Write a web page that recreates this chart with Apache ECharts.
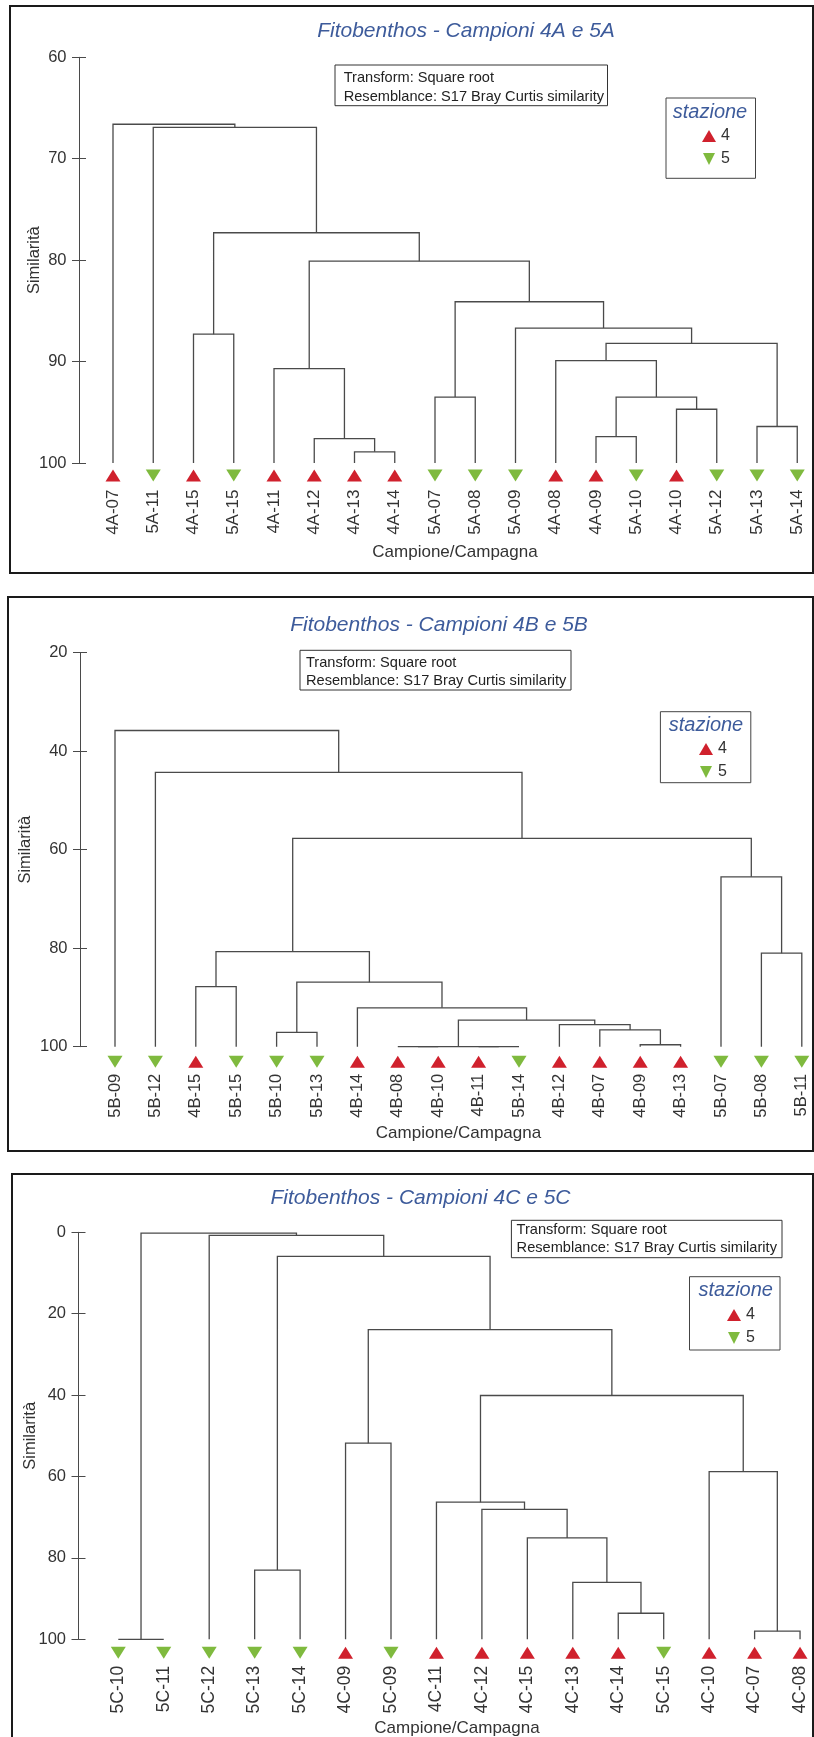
<!DOCTYPE html>
<html>
<head>
<meta charset="utf-8">
<script src="https://cdn.jsdelivr.net/npm/echarts@6/dist/echarts.min.js"></script>
<style>
  html, body { margin: 0; padding: 0; background: #fff; }
  #chart { width: 814px; height: 1737px; }
</style>
</head>
<body>
<div id="chart"></div>
<script>
// ---- pannello A ----
const labelsA = ['4A-07','5A-11','4A-15','5A-15','4A-11','4A-12','4A-13','4A-14','5A-07','5A-08','5A-09','4A-08','4A-09','5A-10','4A-10','5A-12','5A-13','5A-14'];
const stationsA = [4,5,4,5,4,4,4,4,5,5,5,4,4,5,4,5,5,5];
// [nodo, nodo, similarità] - nodi < n sono foglie, n+k è la fusione k
const mergesA = [
  [6, 7, 98.9], [5, 18, 97.6], [12, 13, 97.4], [16, 17, 96.4], [14, 15, 94.7],
  [20, 22, 93.5], [8, 9, 93.5], [4, 19, 90.7], [11, 23, 89.9], [26, 21, 88.2],
  [2, 3, 87.3], [10, 27, 86.7], [24, 29, 84.1], [25, 30, 80.1], [28, 31, 77.3],
  [1, 32, 66.9], [0, 33, 66.6]
];
const ticksA = [60, 70, 80, 90, 100];

// ---- pannello B ----
const labelsB = ['5B-09','5B-12','4B-15','5B-15','5B-10','5B-13','4B-14','4B-08','4B-10','4B-11','5B-14','4B-12','4B-07','4B-09','4B-13','5B-07','5B-08','5B-11'];
const stationsB = [5,5,4,5,5,5,4,4,4,4,5,4,4,4,4,5,5,5];
const mergesB = [
  [7, 8, 100], [9, 10, 100], [18, 19, 100], [13, 14, 99.6], [4, 5, 97.1],
  [12, 21, 96.6], [11, 23, 95.5], [20, 24, 94.6], [6, 25, 92.1], [2, 3, 87.8],
  [22, 26, 86.9], [16, 17, 81.0], [27, 28, 80.7], [15, 29, 65.5], [30, 31, 57.7],
  [1, 32, 44.3], [0, 33, 35.8]
];
const ticksB = [20, 40, 60, 80, 100];

// ---- pannello C ----
const labelsC = ['5C-10','5C-11','5C-12','5C-13','5C-14','4C-09','5C-09','4C-11','4C-12','4C-15','4C-13','4C-14','5C-15','4C-10','4C-07','4C-08'];
const stationsC = [5,5,5,5,5,4,5,4,4,4,4,4,5,4,4,4];
const mergesC = [
  [0, 1, 100], [14, 15, 98.0], [11, 12, 93.6], [10, 18, 86.0], [3, 4, 83.0],
  [9, 19, 75.1], [8, 21, 68.1], [7, 22, 66.3], [13, 17, 58.8], [5, 6, 51.8],
  [23, 24, 40.1], [25, 26, 23.9], [20, 27, 5.9], [2, 28, 0.75], [16, 29, 0.2]
];
const ticksC = [0, 20, 40, 60, 80, 100];

const FONT = '"Liberation Sans", Arial, sans-serif';
const BLUE = '#3d5b9b';
const RED = '#d0212d';
const GREEN = '#7fba3e';
const LINE = '#4a4a4a';
const DOWN = 'path://M0,0L2,0L1,2Z';

// impaginazione dei tre riquadri
const panels = [
  { labels: labelsA, stations: stationsA, merges: mergesA, ticks: ticksA,
    title: 'Fitobenthos - Campioni 4A e 5A', titleXY: [466, 31],
    axisX: 79, top: 57.3, bottom: 463, leaf0: 113, step: 40.25, nameGap: 36,
    xNameXY: [455, 552], labelSize: 17, symOff: 12.5, labelDist: 8,
    border: [10, 6, 813, 573], info: [335, 65, 607.5, 105.7], infoText: [343.7, 77.7, 96.7],
    legBox: [666, 98, 755.5, 178.3], staz: [710, 112.7], legItems: [702, 128] },
  { labels: labelsB, stations: stationsB, merges: mergesB, ticks: ticksB,
    title: 'Fitobenthos - Campioni 4B e 5B', titleXY: [439, 625],
    axisX: 80, top: 652.7, bottom: 1046.7, leaf0: 115, step: 40.4, nameGap: 46,
    xNameXY: [458.5, 1133.3], labelSize: 16.5, symOff: 15, labelDist: 6,
    border: [8, 597, 813, 1151], info: [300, 650.3, 571, 690], infoText: [306, 662.7, 680.7],
    legBox: [660.4, 711.7, 750.8, 782.7], staz: [706, 725.7], legItems: [699, 741] },
  { labels: labelsC, stations: stationsC, merges: mergesC, ticks: ticksC,
    title: 'Fitobenthos - Campioni 4C e 5C', titleXY: [420.5, 1198],
    axisX: 78.5, top: 1232.3, bottom: 1639.3, leaf0: 118.3, step: 45.45, nameGap: 40,
    xNameXY: [457, 1728.3], labelSize: 17.5, symOff: 13.5, labelDist: 7,
    border: [12, 1174, 813, 1745], info: [511.4, 1220.3, 782, 1257.7], infoText: [516.6, 1230, 1248.3],
    legBox: [689.5, 1276.7, 780, 1350], staz: [735.7, 1290], legItems: [727, 1307] }
];

// da fusioni a segmenti: [x sx, h sx, x dx, h dx, h fusione]
function buildLinks(n, merges, leafH) {
  const pos = [], h = [];
  for (let i = 0; i < n; i++) { pos.push(i); h.push(leafH); }
  const links = [];
  merges.forEach(([a, b, s]) => {
    links.push([pos[a], h[a], pos[b], h[b], s]);
    pos.push((pos[a] + pos[b]) / 2);
    h.push(s);
  });
  return links;
}

const grid = [], xAxis = [], yAxis = [], series = [], legend = [], graphic = [];

panels.forEach((p, i) => {
  const n = p.labels.length;
  const yMin = p.ticks[0], yMax = p.ticks[p.ticks.length - 1];
  const pad = p.leaf0 - p.axisX;
  grid.push({ left: p.axisX, top: p.top, height: p.bottom - p.top, width: (n - 1) * p.step + pad + 10 });
  xAxis.push({ type: 'value', gridIndex: i, min: -pad / p.step, max: n - 1 + 10 / p.step, show: false });
  yAxis.push({
    type: 'value', gridIndex: i, position: 'left', inverse: true,
    min: yMin, max: yMax, interval: p.ticks[1] - p.ticks[0],
    name: 'Similarità', nameLocation: 'middle', nameRotate: 90, nameGap: p.nameGap,
    nameMoveOverlap: false,
    nameTextStyle: { fontSize: 16.5, color: '#333', fontFamily: FONT },
    axisLine: { show: true, onZero: false, lineStyle: { color: LINE, width: 1 } },
    axisTick: { show: true, length: 7, lineStyle: { color: LINE } },
    axisLabel: { fontSize: 16.5, color: '#333', fontFamily: FONT, margin: 12.5 },
    splitLine: { show: false }
  });
  // secondo asse solo per le tacche verso l'interno
  yAxis.push({
    type: 'value', gridIndex: i, position: 'left', inverse: true,
    min: yMin, max: yMax, interval: p.ticks[1] - p.ticks[0],
    axisLine: { show: false, onZero: false }, axisLabel: { show: false }, splitLine: { show: false },
    axisTick: { show: true, inside: true, length: 7, lineStyle: { color: LINE } }
  });

  series.push({
    type: 'custom', xAxisIndex: i, yAxisIndex: 2 * i, silent: true,
    encode: { x: [0, 2], y: [1, 3, 4] },
    data: buildLinks(n, p.merges, yMax),
    renderItem: (params, api) => {
      const a = api.coord([api.value(0), api.value(1)]);
      const b = api.coord([api.value(0), api.value(4)]);
      const c = api.coord([api.value(2), api.value(4)]);
      const d = api.coord([api.value(2), api.value(3)]);
      return { type: 'polyline', shape: { points: [a, b, c, d] },
               style: { stroke: LINE, lineWidth: 1.3, fill: null } };
    }
  });

  [[4, 'triangle', RED], [5, DOWN, GREEN]].forEach(([st, sym, col]) => {
    const pts = [];
    p.stations.forEach((s, k) => { if (s === st) pts.push([k, yMax]); });
    series.push({
      type: 'scatter', name: String(st), xAxisIndex: i, yAxisIndex: 2 * i,
      clip: false, silent: true,
      symbol: sym, symbolSize: [15, 12], symbolOffset: [0, p.symOff],
      itemStyle: { color: col, opacity: 1 },
      label: {
        show: true, position: 'bottom', distance: p.labelDist, rotate: 90,
        align: 'right', verticalAlign: 'middle',
        fontSize: p.labelSize, color: '#333', fontFamily: FONT,
        formatter: (q) => p.labels[q.value[0]]
      },
      data: pts
    });
  });

  legend.push({
    orient: 'vertical', left: p.legItems[0], top: p.legItems[1], padding: 0,
    itemWidth: 14, itemHeight: 12, itemGap: 7, selectedMode: false,
    textStyle: { fontSize: 16, color: '#333', fontFamily: FONT },
    data: [{ name: '4', icon: 'triangle' }, { name: '5', icon: DOWN }]
  });

  const [bx0, by0, bx1, by1] = p.border;
  graphic.push({ type: 'rect', silent: true, shape: { x: bx0, y: by0, width: bx1 - bx0, height: by1 - by0 },
                 style: { fill: null, stroke: '#1a1a1a', lineWidth: 2 } });
  graphic.push({ type: 'text', silent: true, x: p.titleXY[0], y: p.titleXY[1],
                 style: { text: p.title, font: 'italic 21px ' + FONT, fill: BLUE, textAlign: 'center', textVerticalAlign: 'middle' } });
  const [ix0, iy0, ix1, iy1] = p.info;
  graphic.push({ type: 'rect', silent: true, shape: { x: ix0, y: iy0, width: ix1 - ix0, height: iy1 - iy0 },
                 style: { fill: '#fff', stroke: '#333', lineWidth: 1 } });
  graphic.push({ type: 'text', silent: true, x: p.infoText[0], y: p.infoText[1],
                 style: { text: 'Transform: Square root', font: '14.6px ' + FONT, fill: '#222', textVerticalAlign: 'middle' } });
  graphic.push({ type: 'text', silent: true, x: p.infoText[0], y: p.infoText[2],
                 style: { text: 'Resemblance: S17 Bray Curtis similarity', font: '14.6px ' + FONT, fill: '#222', textVerticalAlign: 'middle' } });
  const [lx0, ly0, lx1, ly1] = p.legBox;
  graphic.push({ type: 'rect', silent: true, shape: { x: lx0, y: ly0, width: lx1 - lx0, height: ly1 - ly0 },
                 style: { fill: null, stroke: '#444', lineWidth: 1 } });
  graphic.push({ type: 'text', silent: true, x: p.staz[0], y: p.staz[1],
                 style: { text: 'stazione', font: 'italic 20px ' + FONT, fill: BLUE, textAlign: 'center', textVerticalAlign: 'middle' } });
  graphic.push({ type: 'text', silent: true, x: p.xNameXY[0], y: p.xNameXY[1],
                 style: { text: 'Campione/Campagna', font: '17px ' + FONT, fill: '#333', textAlign: 'center', textVerticalAlign: 'middle' } });
});

const chart = echarts.init(document.getElementById('chart'), null, { renderer: 'canvas' });
chart.setOption({
  animation: false,
  backgroundColor: '#fff',
  grid, xAxis, yAxis, series, legend, graphic
});
</script>
</body>
</html>
